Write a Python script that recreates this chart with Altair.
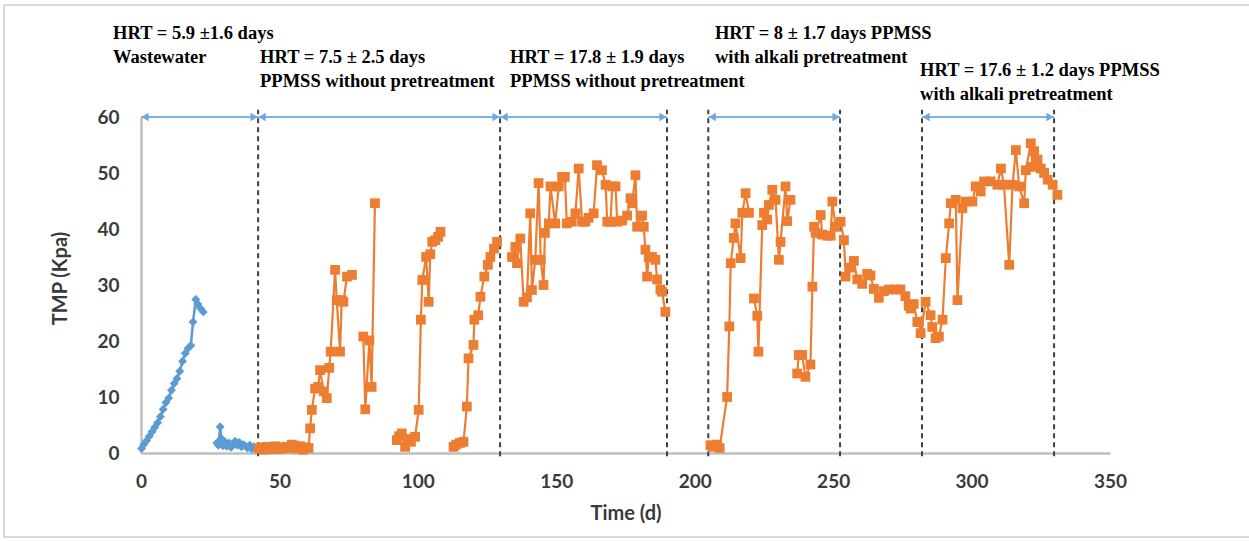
import altair as alt
import pandas as pd

# ---------------- data ----------------
# Wastewater (blue diamonds), two runs separated by a gap
blue_day = [0.2, 1, 2, 3, 4, 5, 6, 7, 8, 9, 10, 11, 12, 13, 14, 15, 16, 17, 18, 18.8, 19.8, 20.5, 21.5, 22.5,
            27.4, 28.0, 28.6, 29.0, 29.6, 30.3, 31.0, 31.8, 32.5, 33.3, 34.0, 34.8, 35.5, 36.3, 37.0, 37.8,
            38.5, 39.3, 40.0, 40.8, 41.5, 42.2]
blue_tmp = [0.8, 1.5, 2.2, 3.0, 3.8, 4.6, 5.4, 6.5, 7.8, 9.0, 9.8, 11.2, 12.4, 13.3, 14.6, 16.4, 17.8, 18.7, 19.2,
            23.4, 27.4, 26.6, 25.8, 25.2,
            1.8, 1.4, 4.7, 2.6, 1.3, 2.0, 1.2, 1.8, 1.0, 1.6, 2.1, 1.4, 1.9, 1.1, 1.5, 1.2, 0.9, 1.4, 0.7, 1.1,
            0.8, 0.6]
blue_seg = [1] * 24 + [2] * 22

# PPMSS (orange squares), runs separated by gaps
o1_day = [42.5, 43.5, 44.5, 45.5, 46.5, 47.5, 48.5, 49.5, 50.5, 51.5, 52.5, 53.5, 54.5, 55.5, 56.5, 57.5, 58.5,
          59.5, 60.5, 61.1, 61.7, 62.9, 64.0, 64.7, 66.0, 67.1, 68.0, 68.5, 70.1, 70.7, 71.9, 72.5, 73.1, 74.4, 76.2]
o1_tmp = [0.8, 1.0, 0.6, 1.1, 0.7, 0.9, 1.2, 0.7, 1.0, 0.8, 1.1, 0.9, 1.5, 1.3, 0.8, 1.2, 0.6, 1.0, 0.9,
          4.4, 7.7, 11.5, 11.8, 14.8, 11.0, 9.8, 15.2, 18.1, 32.7, 27.3, 18.1, 27.3, 27.0, 31.5, 31.8]
o2_day = [80.3, 81.0, 82.5, 83.3, 84.5]
o2_tmp = [20.8, 7.8, 20.1, 11.8, 44.6]
o3_day = [92.4, 93.2, 94.2, 95.4, 96.4, 97.5, 99.0, 100.3, 101.1, 101.6, 103.0, 103.9, 104.5, 105.2, 106.3,
          107.3, 108.2]
o3_tmp = [2.3, 3.0, 3.5, 1.1, 2.5, 2.0, 2.9, 7.7, 23.8, 30.9, 35.0, 27.0, 35.5, 37.7, 38.0, 38.6, 39.5]
o4_day = [112.9, 113.8, 115.2, 116.5, 117.7, 118.3, 120.1, 120.4, 121.8, 122.6, 124.0, 125.3, 126.2, 127.5, 128.6]
o4_tmp = [1.1, 1.5, 1.8, 2.0, 8.3, 16.9, 19.3, 23.8, 24.6, 27.9, 31.5, 33.6, 35.0, 36.5, 37.7]
o5_day = [134.0, 135.2, 135.8, 137.0, 138.2, 139.4, 140.6, 141.2, 142.4, 143.6, 144.4, 145.4, 145.9, 147.3,
          147.9, 149.6, 150.9, 152.1, 153.1, 153.8, 155.6, 156.9, 158.1, 159.3, 160.5, 161.7, 163.5, 164.7,
          166.5, 167.8, 168.4, 169.6, 170.2, 171.4, 172.0, 173.8, 175.6, 176.8, 177.4, 178.6, 179.2, 181.0,
          181.6, 182.2, 182.8, 183.4, 184.6, 185.8, 186.4, 187.6, 188.2, 189.4]
o5_tmp = [35.0, 36.8, 33.9, 38.3, 27.0, 27.8, 42.8, 29.1, 34.5, 48.2, 34.5, 30.0, 39.3, 41.0, 47.6, 41.0, 47.6,
          49.3, 49.3, 41.0, 41.3, 42.8, 50.8, 41.3, 41.3, 42.0, 42.8, 51.4, 50.5, 47.9, 41.3, 41.3, 47.6, 47.6,
          41.3, 41.5, 42.4, 45.5, 44.6, 49.6, 40.4, 42.4, 40.4, 36.3, 31.5, 35.0, 35.0, 34.5, 31.0, 29.2, 28.8,
          25.2]
o6_day = [205.7, 206.5, 208.0, 209.0, 211.7, 212.5, 213.0, 214.1, 214.7, 216.6, 217.2, 218.4, 219.6]
o6_tmp = [1.4, 1.1, 1.5, 0.9, 10.0, 22.6, 33.9, 38.4, 41.0, 34.8, 42.9, 46.4, 42.9]
o7_day = [221.4, 222.6, 223.0, 224.4, 225.0, 226.2, 226.8, 228.0, 229.2, 230.4, 231.0, 232.8, 233.4, 234.6]
o7_tmp = [27.6, 24.5, 18.1, 40.7, 42.9, 41.7, 44.3, 47.0, 45.2, 34.5, 37.7, 47.6, 41.4, 45.2]
o8_day = [237.0, 237.6, 238.8, 240.0, 241.8, 242.5, 243.1, 243.7, 245.5, 246.0, 247.9, 249.1, 249.7, 250.9,
          252.7, 253.9, 254.5, 256.3, 257.5, 258.7, 260.5, 262.3, 263.5, 264.7, 266.5, 268.3, 270.1, 272.5,
          274.3, 276.1, 277.3, 278.0, 279.1, 280.4, 281.0, 281.6, 283.4, 285.2, 285.8, 287.0, 288.2, 289.5,
          290.7, 291.9, 292.5, 294.3, 294.9, 296.7, 297.9, 300.3, 301.5, 303.3, 304.5, 306.9, 309.3, 310.6,
          311.7, 313.6, 314.8, 316.0, 317.2, 319.0, 319.6, 321.4, 322.0, 322.6, 323.8, 325.0, 326.2, 327.5,
          329.3, 331.0]
o8_tmp = [14.2, 17.5, 17.5, 13.6, 15.8, 29.7, 40.4, 39.3, 42.5, 39.0, 38.8, 38.8, 44.9, 40.4, 41.3, 38.0, 31.5,
          33.1, 34.3, 31.0, 30.2, 32.0, 31.7, 29.3, 27.7, 28.9, 29.2, 29.2, 29.2, 28.0, 26.3, 25.8, 26.6, 23.4,
          23.4, 21.4, 27.0, 24.6, 22.5, 20.5, 20.8, 23.8, 34.8, 41.0, 44.6, 45.2, 27.3, 43.7, 44.9, 44.9, 47.6,
          46.7, 48.5, 48.5, 47.9, 50.8, 47.9, 33.6, 47.9, 54.1, 47.6, 44.6, 50.5, 55.3, 51.1, 53.9, 52.4, 50.8,
          50.0, 48.8, 47.9, 46.1]

# phase boundaries (days) and arrows at TMP = 60
boundary_day = [42.3, 129.7, 190.0, 204.9, 252.5, 282.1, 329.8]
arrow_start = [0.0, 42.3, 129.7, 204.9, 282.1]
arrow_end = [42.3, 129.7, 190.0, 252.5, 329.8]
arrow_level = 60

# phase annotations (position in data units)
ann_text = ["HRT = 5.9 \u00b11.6 days", "Wastewater",
            "HRT = 7.5 \u00b1 2.5 days", "PPMSS without pretreatment",
            "HRT = 17.8 \u00b1 1.9 days", "PPMSS without pretreatment",
            "HRT = 8 \u00b1 1.7 days PPMSS", "with alkali pretreatment",
            "HRT = 17.6 \u00b1 1.2 days PPMSS", "with alkali pretreatment"]
ann_day = [-10.1, -10.1, 43.0, 43.0, 133.3, 133.3, 207.3, 207.3, 281.4, 281.4]
ann_tmp = [73.9, 69.6, 69.6, 65.4, 69.6, 65.4, 73.9, 69.6, 67.3, 63.0]

x_ticks = [0, 50, 100, 150, 200, 250, 300, 350]
y_ticks = [0, 10, 20, 30, 40, 50, 60]

# ---------------- tables ----------------
blue_df = pd.DataFrame({"x": blue_day, "y": blue_tmp, "seg": blue_seg})
o_days = [o1_day, o2_day, o3_day, o4_day, o5_day, o6_day, o7_day, o8_day]
o_tmps = [o1_tmp, o2_tmp, o3_tmp, o4_tmp, o5_tmp, o6_tmp, o7_tmp, o8_tmp]
orange_df = pd.concat(
    [pd.DataFrame({"x": d, "y": t, "seg": i}) for i, (d, t) in enumerate(zip(o_days, o_tmps))],
    ignore_index=True)
rule_df = pd.DataFrame({"x": boundary_day, "y": [-0.6] * len(boundary_day), "y2": [61.3] * len(boundary_day)})
arrow_df = pd.DataFrame({"x": arrow_start, "x2": arrow_end, "y": [arrow_level] * len(arrow_start)})
head_l = pd.DataFrame({"x": arrow_start, "y": [arrow_level] * len(arrow_start)})
head_r = pd.DataFrame({"x": arrow_end, "y": [arrow_level] * len(arrow_end)})
ann_df = pd.DataFrame({"x": ann_day, "y": ann_tmp, "text": ann_text})

AX_FONT = "Lato"
GREY = "#3A3A3A"
xs = alt.Scale(domain=[0, 350], nice=False, zero=False)
ys = alt.Scale(domain=[0, 60], nice=False, zero=False)
x_enc = alt.X("x:Q", scale=xs, title="Time (d)",
              axis=alt.Axis(values=x_ticks, grid=False, ticks=False, domainColor="#BFBFBF", domainWidth=2.5,
                            labelFont=AX_FONT, labelFontSize=19, labelFontWeight="bold", labelColor=GREY,
                            labelPadding=19, labelFlush=False,
                            titleFont=AX_FONT, titleFontSize=20, titleFontWeight="bold", titleColor=GREY,
                            titlePadding=12))
y_enc = alt.Y("y:Q", scale=ys, title="TMP (Kpa)",
              axis=alt.Axis(values=y_ticks, grid=False, ticks=False, domainColor="#BFBFBF", domainWidth=2.5,
                            labelFont=AX_FONT, labelFontSize=19, labelFontWeight="bold", labelColor=GREY,
                            labelPadding=22, labelFlush=False,
                            titleFont=AX_FONT, titleFontSize=20, titleFontWeight="bold", titleColor=GREY,
                            titleX=-81, titleY=161, titleAlign="center", titleBaseline="middle",
                            titleAngle=270))

frame = alt.Chart(pd.DataFrame({"a": [0]})).mark_rect(
    fill="transparent", stroke="#CFCFCF", strokeWidth=1.5).encode(
    x=alt.value(-137), x2=alt.value(1112), y=alt.value(-112), y2=alt.value(420))

rules = alt.Chart(rule_df).mark_rule(color="#404040", strokeWidth=2, strokeDash=[5, 4]).encode(
    x=x_enc, y=y_enc, y2="y2:Q")

arrows = alt.Chart(arrow_df).mark_rule(color="#7FB2E0", strokeWidth=2.2).encode(x=x_enc, x2="x2:Q", y=y_enc)
heads_l = alt.Chart(head_l).mark_point(shape="triangle-left", filled=True, color="#6FA8DC", size=70,
                                       opacity=1, xOffset=4).encode(x=x_enc, y=y_enc)
heads_r = alt.Chart(head_r).mark_point(shape="triangle-right", filled=True, color="#6FA8DC", size=70,
                                       opacity=1, xOffset=-4).encode(x=x_enc, y=y_enc)

blue_line = alt.Chart(blue_df).mark_line(color="#5B9BD5", strokeWidth=2.5).encode(
    x=x_enc, y=y_enc, detail="seg:N")
blue_pts = alt.Chart(blue_df).mark_point(shape="diamond", filled=True, color="#5B9BD5", size=80,
                                         opacity=1).encode(x=x_enc, y=y_enc)
orange_line = alt.Chart(orange_df).mark_line(color="#ED7D31", strokeWidth=2.2).encode(
    x=x_enc, y=y_enc, detail="seg:N")
orange_pts = alt.Chart(orange_df).mark_point(shape="square", filled=True, color="#ED7D31", size=95,
                                             opacity=1).encode(x=x_enc, y=y_enc)

notes = alt.Chart(ann_df).mark_text(align="left", baseline="alphabetic", font="Liberation Serif",
                                    fontWeight="bold", fontSize=18.5, color="#000000").encode(
    x=x_enc, y=y_enc, text="text:N")

chart = alt.layer(frame, rules, arrows, heads_l, heads_r, blue_line, blue_pts, orange_line, orange_pts,
                  notes).properties(
    width=969, height=336,
    autosize=alt.AutoSizeParams(type="none"),
    padding={"left": 141, "top": 117, "right": 139, "bottom": 88},
    background="#FFFFFF",
).configure_view(stroke=None)

chart.save("out.html", embed_options={"renderer": "svg", "actions": False})
